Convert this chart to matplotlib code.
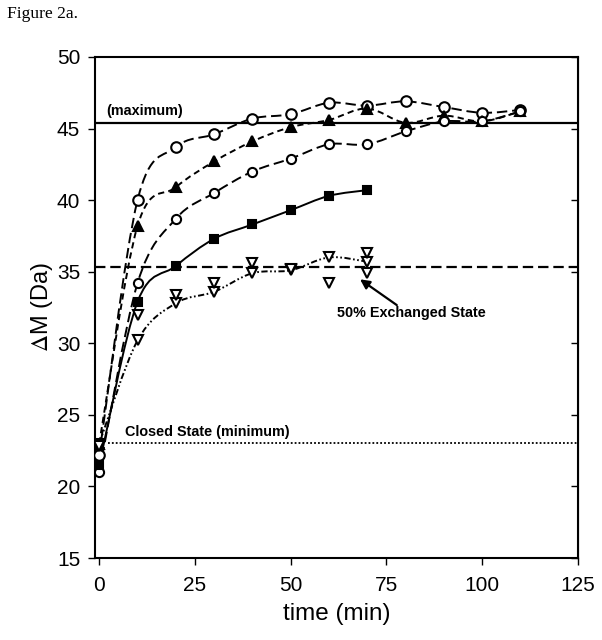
import numpy as np
import matplotlib
matplotlib.use("Agg")
import matplotlib.pyplot as plt
from matplotlib.path import Path
from matplotlib.patches import PathPatch

plt.rcParams['font.family'] = ['Liberation Sans', 'DejaVu Sans']
plt.rcParams['mathtext.fontset'] = 'stix'
plt.rcParams['lines.scale_dashes'] = False

# ---- data ----
t_full = [0, 10, 20, 30, 40, 50, 60, 70, 80, 90, 100, 110]
circ_a = [22.2, 40.0, 43.7, 44.6, 45.7, 46.0, 46.8, 46.6, 46.9, 46.5, 46.1, 46.3]
tri_up = [23.0, 38.2, 40.9, 42.7, 44.1, 45.1, 45.6, 46.4, 45.4, 45.9, 45.5, 46.2]
circ_b = [21.0, 34.2, 38.7, 40.5, 42.0, 42.9, 43.9, 43.9, 44.8, 45.5, 45.5, 46.2]

t_short = [0, 10, 20, 30, 40, 50, 60, 70]
squares = [21.5, 32.9, 35.4, 37.3, 38.3, 39.3, 40.3, 40.7]
tri_dn_line = [23.0, 30.2, 32.8, 33.6, 34.9, 35.1, 36.0, 35.7]
tri_dn_pts = [22.8, 32.0, 33.4, 34.2, 35.6, 35.2, 34.2, 36.3]
t_extra = [70]
tri_dn_extra = [34.9]

maximum_level = 45.4
half_level = 35.35
minimum_level = 23.07

x_ticks = [0, 25, 50, 75, 100, 125]
y_ticks = [15, 20, 25, 30, 35, 40, 45, 50]


def smooth_path(x, y):
    x = np.asarray(x, float)
    y = np.asarray(y, float)
    pts = np.column_stack([x, y])
    n = len(pts)
    verts = [pts[0]]
    codes = [Path.MOVETO]
    for i in range(n - 1):
        p0 = pts[i - 1] if i > 0 else pts[i]
        p1 = pts[i]
        p2 = pts[i + 1]
        p3 = pts[i + 2] if i + 2 < n else pts[i + 1]
        c1 = p1 + (p2 - p0) / 6.0
        c2 = p2 - (p3 - p1) / 6.0
        verts += [c1, c2, p2]
        codes += [Path.CURVE4] * 3
    return Path(verts, codes)


fig = plt.figure(figsize=(6.02, 6.40), dpi=100)
ax = fig.add_axes([0.1585, 0.128, 0.8015, 0.783])
ax.set_xlim(-1, 125)
ax.set_ylim(15, 50)

lw = 1.4
# reference lines
ax.axhline(maximum_level, color='black', lw=1.6, zorder=2)
ax.axhline(half_level, color='black', lw=1.6, linestyle=(0, (7.5, 3.5)), zorder=2)
ax.plot([2.2, 125], [minimum_level, minimum_level], color='black', lw=1.3,
        linestyle=(0, (1.3, 1.5)), zorder=2)

series = [
    (t_full, circ_a, (0, (7.5, 3.5)), 'o', 'white', 7.6),
    (t_full, tri_up, (0, (4.5, 3.0)), '^', 'black', 7.6),
    (t_full, circ_b, (0, (7.5, 3.5)), 'o', 'white', 6.6),
    (t_short, squares, 'solid', 's', 'black', 6.4),
    (t_short, tri_dn_line, (0, (4.5, 1.8, 1.2, 1.8, 1.2, 1.8)), 'v', 'white', 7.8),
]
for tx, vy, ls, mk, fc, ms in series:
    ax.add_patch(PathPatch(smooth_path(tx, vy), fill=False, edgecolor='black',
                           lw=lw, linestyle=ls, zorder=3))
    ax.plot(tx, vy, linestyle='none', marker=mk, markersize=ms,
            markerfacecolor=fc, markeredgecolor='black', markeredgewidth=1.5, zorder=4)

ax.plot(t_short, tri_dn_pts, linestyle='none', marker='v', markersize=7.8,
        markerfacecolor='white', markeredgecolor='black', markeredgewidth=1.5, zorder=4)
ax.plot(t_extra, tri_dn_extra, linestyle='none', marker='v', markersize=7.8,
        markerfacecolor='white', markeredgecolor='black', markeredgewidth=1.5, zorder=4)

# annotations
ax.text(1.8, 46.25, '(maximum)', fontsize=10.4, fontweight='bold', va='center', ha='left')
ax.text(6.8, 23.82, 'Closed State (minimum)', fontsize=10.4, fontweight='bold',
        va='center', ha='left')
ax.text(62.2, 32.09, '50% Exchanged State', fontsize=10.4, fontweight='bold',
        va='center', ha='left')
ax.annotate('', xy=(68.1, 34.47), xytext=(77.7, 32.67),
            arrowprops=dict(arrowstyle='-|>', color='black', lw=1.6,
                            mutation_scale=14, shrinkA=0, shrinkB=0))

# axes styling
for s in ax.spines.values():
    s.set_linewidth(1.5)
ax.set_xticks(x_ticks)
ax.set_yticks(y_ticks)
ax.tick_params(axis='both', direction='out', length=5, width=1.0, labelsize=15, pad=6)
ax.tick_params(axis='x', pad=8)
sec = ax.secondary_yaxis('right')
sec.set_yticks(y_ticks)
sec.tick_params(direction='in', length=5, width=1.0, labelright=False)

ax.set_xlabel('time (min)', fontsize=17.5, labelpad=6)
ax.set_ylabel(r'$\Delta$M (Da)', fontsize=17, labelpad=1)

fig.text(0.012, 1 - 14 / 640, 'Figure 2a.', fontsize=12.6, family='Liberation Serif',
         va='center', ha='left')

fig.savefig('out.png', dpi=100)
